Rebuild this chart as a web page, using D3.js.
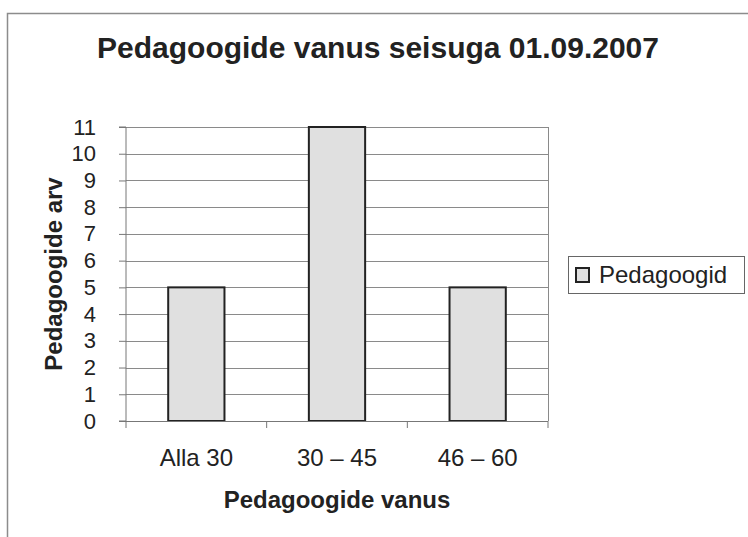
<!DOCTYPE html>
<html lang="et">
<head>
<meta charset="utf-8">
<title>Pedagoogide vanus seisuga 01.09.2007</title>
<script src="https://d3js.org/d3.v7.min.js"></script>
<style>
  body { margin: 0; background: #fff; }
  svg text { font-family: Arial, "Liberation Sans", sans-serif; fill: #222; }
  .grid line { stroke: #8a8a8a; stroke-width: 1; }
  .axis path, .axis line { stroke: #777; }
</style>
</head>
<body>
<script>
// data
const categories = ["Alla 30", "30 \u2013 45", "46 \u2013 60"];
const pedagoogid = [5, 11, 5];
const yTicks = [0, 1, 2, 3, 4, 5, 6, 7, 8, 9, 10, 11];
const seriesName = "Pedagoogid";

const w = 748, h = 537;
const plot = { left: 126, right: 548, top: 127, bottom: 421 };

const svg = d3.select("body").append("svg")
    .attr("width", w)
    .attr("height", h);

// outer frame
svg.append("rect")
    .attr("x", 7.5).attr("y", 13.5)
    .attr("width", w + 20).attr("height", h + 20)
    .attr("fill", "none")
    .attr("stroke", "#8c8c8c")
    .attr("stroke-width", 1.5);

// scales
const x = d3.scaleBand()
    .domain(categories)
    .range([plot.left, plot.right])
    .paddingInner(0.6)
    .paddingOuter(0.3);

const y = d3.scaleLinear()
    .domain([0, 11])
    .range([plot.bottom, plot.top]);

// gridlines
svg.append("g")
    .attr("class", "grid")
    .selectAll("line")
    .data(yTicks.slice(1))
    .join("line")
    .attr("x1", plot.left).attr("x2", plot.right)
    .attr("y1", d => Math.round(y(d)) + 0.5)
    .attr("y2", d => Math.round(y(d)) + 0.5);

// right edge of plot area
svg.append("line")
    .attr("x1", plot.right + 0.5).attr("x2", plot.right + 0.5)
    .attr("y1", y(11)).attr("y2", y(0))
    .attr("stroke", "#8a8a8a");

// bars
svg.append("g")
    .selectAll("rect")
    .data(pedagoogid)
    .join("rect")
    .attr("x", (d, i) => x(categories[i]))
    .attr("y", d => y(d))
    .attr("width", x.bandwidth())
    .attr("height", d => y(0) - y(d))
    .attr("fill", "#e0e0e0")
    .attr("stroke", "#222")
    .attr("stroke-width", 2);

// left axis
const leftAxis = d3.axisLeft(y)
    .tickValues(yTicks)
    .tickSize(7)
    .tickPadding(23);

svg.append("g")
    .attr("class", "axis")
    .attr("transform", "translate(" + plot.left + ",0)")
    .call(leftAxis)
    .call(g => g.select(".domain").attr("d", "M-7," + y(11) + "H0V" + y(0) + "H-7"))
    .selectAll("text")
    .attr("font-size", 22)
    .attr("fill", "#222");

// bottom axis, ticks between categories
const bottom = svg.append("g")
    .attr("class", "axis")
    .attr("transform", "translate(0," + plot.bottom + ")");

bottom.append("line")
    .attr("x1", plot.left).attr("x2", plot.right)
    .attr("y1", 0.5).attr("y2", 0.5);

const step = x.step();
const boundaries = d3.range(categories.length + 1).map(i => plot.left + i * step);
bottom.selectAll(".tk")
    .data(boundaries)
    .join("line")
    .attr("class", "tk")
    .attr("x1", d => d).attr("x2", d => d)
    .attr("y1", 0).attr("y2", 7);

bottom.selectAll(".lbl")
    .data(categories)
    .join("text")
    .attr("class", "lbl")
    .attr("x", d => x(d) + x.bandwidth() / 2)
    .attr("y", 45)
    .attr("text-anchor", "middle")
    .attr("font-size", 24)
    .text(d => d);

// titles
svg.append("text")
    .attr("x", 378).attr("y", 58)
    .attr("text-anchor", "middle")
    .attr("font-size", 30)
    .attr("font-weight", "bold")
    .text("Pedagoogide vanus seisuga 01.09.2007");

svg.append("text")
    .attr("x", 337).attr("y", 508)
    .attr("text-anchor", "middle")
    .attr("font-size", 24)
    .attr("font-weight", "bold")
    .text("Pedagoogide vanus");

svg.append("text")
    .attr("transform", "translate(62," + (plot.top + plot.bottom) / 2 + ") rotate(-90)")
    .attr("text-anchor", "middle")
    .attr("font-size", 24)
    .attr("font-weight", "bold")
    .text("Pedagoogide arv");

// legend
const legend = svg.append("g").attr("transform", "translate(568,256)");
legend.append("rect")
    .attr("x", 0.5).attr("y", 0.5)
    .attr("width", 176).attr("height", 37)
    .attr("fill", "#fff")
    .attr("stroke", "#666");
legend.append("rect")
    .attr("x", 8).attr("y", 12)
    .attr("width", 13).attr("height", 14)
    .attr("fill", "#e0e0e0")
    .attr("stroke", "#222")
    .attr("stroke-width", 2);
legend.append("text")
    .attr("x", 31).attr("y", 27)
    .attr("font-size", 24)
    .text(seriesName);
</script>
</body>
</html>
